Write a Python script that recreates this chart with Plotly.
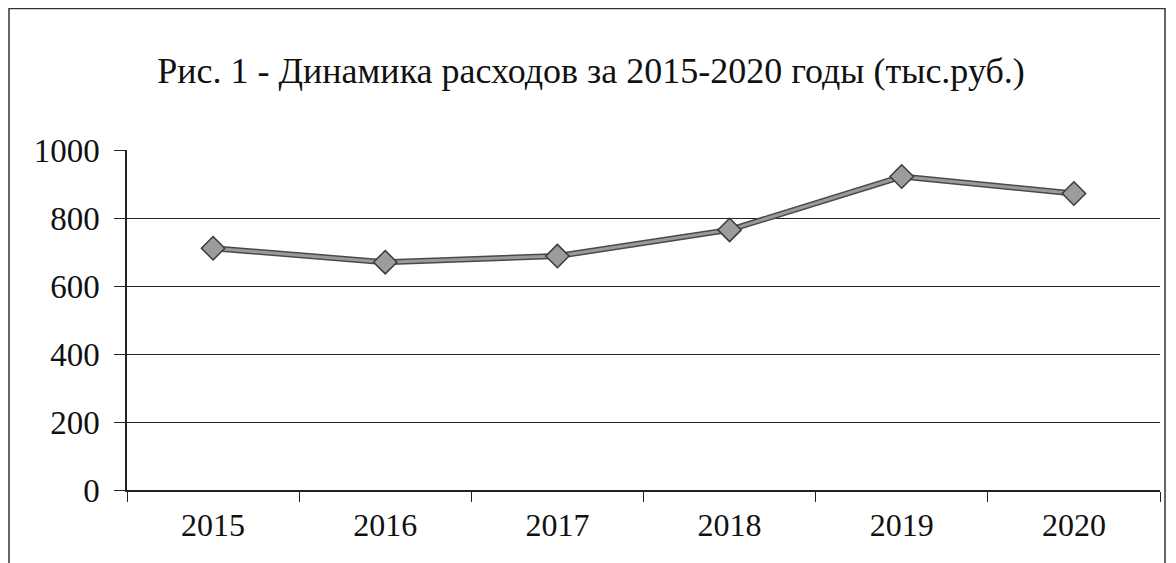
import plotly.graph_objects as go

years = ["2015", "2016", "2017", "2018", "2019", "2020"]
expenses = [711, 670, 688, 765, 922, 872]
y_ticks = [0, 200, 400, 600, 800, 1000]
title_text = "Рис. 1 - Динамика расходов за 2015-2020 годы (тыс.руб.)"

FONT = "Liberation Serif, Times New Roman, serif"

fig = go.Figure()
# dark outline of the line
fig.add_trace(go.Scatter(
    x=years, y=expenses, mode="lines",
    line=dict(color="#4a4a4a", width=6),
    hoverinfo="skip", showlegend=False,
))
# lighter inner line with markers
fig.add_trace(go.Scatter(
    x=years, y=expenses, mode="lines+markers",
    line=dict(color="#9a9a9a", width=3),
    marker=dict(symbol="diamond", size=18, color="#9c9c9c",
                line=dict(color="#3a3a3a", width=1.5)),
    showlegend=False,
))

# page has an 8px body margin, so figure coords = screen coords - 8
L, R, T, B = 119, 24, 142, 81
W, H = 1176, 563
pw, ph = W - L - R, H - T - B

def px_x(x):
    return (x - L) / pw

def px_y(y):
    return (H - B - y) / ph

fig.add_shape(type="rect", xref="paper", yref="paper",
              x0=px_x(1), x1=px_x(1157), y0=px_y(620), y1=px_y(0.5),
              line=dict(color="#333333", width=1.5), fillcolor="rgba(0,0,0,0)",
              layer="below")

fig.update_layout(
    width=W, height=H,
    margin=dict(l=L, r=R, t=T, b=B),
    paper_bgcolor="white", plot_bgcolor="white",
    font=dict(family=FONT, color="#111111", size=33),
    title=dict(text=title_text, x=583 / W, xref="container", y=1 - 62 / H, yanchor="middle",
               xanchor="center", font=dict(family=FONT, size=36, color="#111111")),
)
fig.update_xaxes(
    type="category", range=[-0.5, len(years) - 0.5], showgrid=False, showline=True,
    linecolor="#222222", linewidth=1.5,
    ticks="outside", tickson="boundaries", ticklen=10, tickcolor="#222222",
    tickfont=dict(family=FONT, size=32), mirror=False, ticklabelstandoff=6,
)
fig.update_yaxes(
    range=[0, 1000], tickvals=y_ticks, showgrid=True, gridcolor="#222222", gridwidth=1.2,
    showline=True, linecolor="#222222", linewidth=1.5, ticks="outside", ticklen=11,
    tickcolor="#222222", tickfont=dict(family=FONT, size=33), zeroline=False,
    ticklabelstandoff=8,
)

fig.write_html("out.html")
